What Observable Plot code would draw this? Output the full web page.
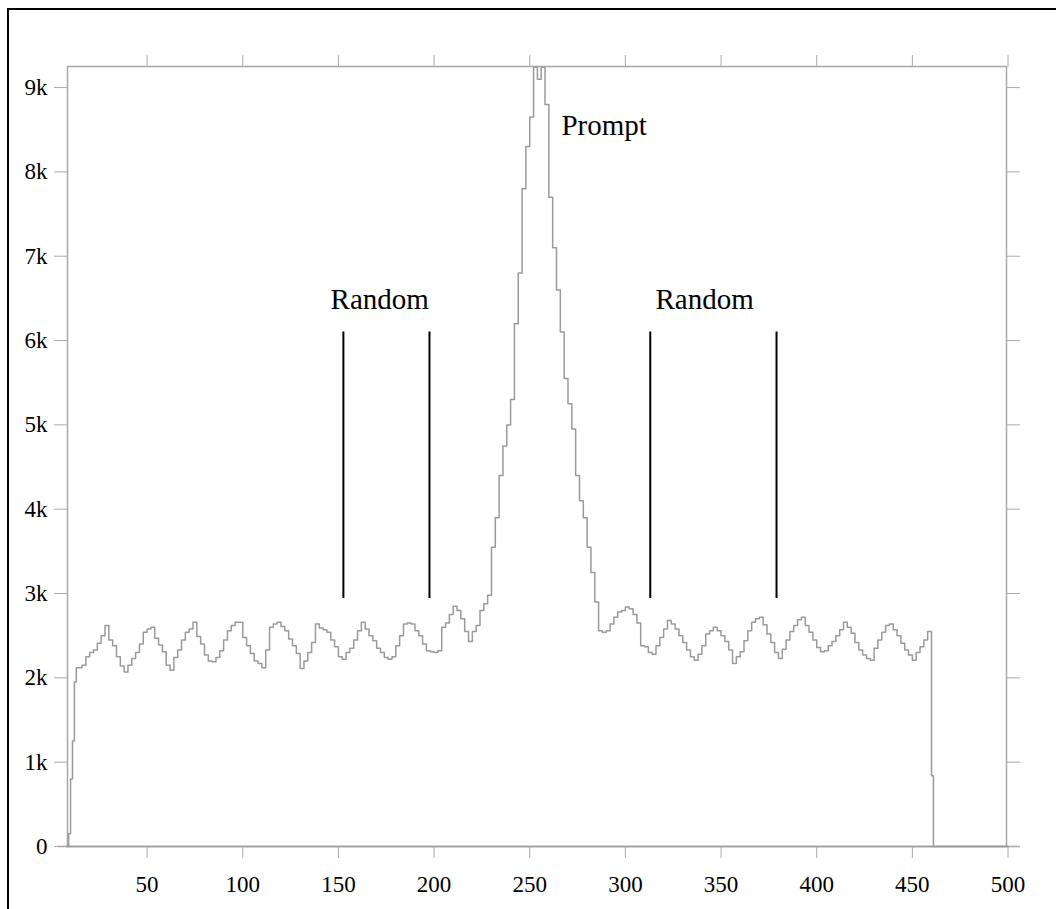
<!DOCTYPE html>
<html><head><meta charset="utf-8">
<script src="https://cdn.jsdelivr.net/npm/d3@7"></script>
<script src="https://cdn.jsdelivr.net/npm/@observablehq/plot@0.6"></script>
<style>
body{margin:0;background:#fff;}
#wrap{position:relative;width:1056px;height:909px;overflow:hidden;background:#fff;}
#border{position:absolute;left:7px;top:8px;width:1200px;height:1100px;border-left:2.5px solid #000;border-top:2.5px solid #000;}
#chart{position:absolute;left:0;top:0;}
</style></head><body>
<div id="wrap"><div id="border"></div><div id="chart"></div></div>
<script>
// Histogram bins (start of each bin) and counts
const binStart = [8,9,10,11,12,13,
  14,16,18,20,22,24,26,28,30,32,34,36,38,40,42,44,46,48,50,52,54,56,58,60,
  62,64,66,68,70,72,74,76,78,80,82,84,86,88,90,92,94,96,98,100,102,104,106,108,110,
  112,114,116,118,120,122,124,126,128,130,132,134,136,138,140,142,144,146,148,150,
  152,154,156,158,160,162,164,166,168,170,172,174,176,178,180,182,184,186,188,190,
  192,194,196,198,200,202,204,206,208,210,212,214,216,218,220,222,224,226,228,230,
  232,234,236,238,240,242,244,246,248,250,252,254,256,258,260,262,264,266,268,270,
  272,274,276,278,280,282,284,286,288,290,292,294,296,298,300,302,304,306,308,310,
  312,314,316,318,320,322,324,326,328,330,332,334,336,338,340,342,344,346,348,350,
  352,354,356,358,360,362,364,366,368,370,372,374,376,378,380,382,384,386,388,390,
  392,394,396,398,400,402,404,406,408,410,412,414,416,418,420,422,424,426,428,430,
  432,434,436,438,440,442,444,446,448,450,452,454,456,458,460,461,500];
const counts = [0,150,800,1250,1950,2120,
  2120,2150,2250,2300,2330,2410,2500,2620,2450,2380,2250,2140,2070,2150,2230,2300,2400,2540,2580,2600,2470,2390,2310,2150,
  2090,2240,2330,2450,2540,2580,2660,2490,2400,2270,2200,2190,2240,2320,2450,2560,2620,2660,2660,2480,2380,2290,2200,2170,2120,
  2330,2600,2640,2660,2610,2560,2460,2380,2290,2110,2200,2300,2420,2640,2590,2570,2540,2450,2370,2250,
  2220,2300,2350,2450,2560,2660,2580,2500,2440,2350,2300,2240,2220,2250,2380,2500,2640,2650,2640,2560,
  2500,2400,2320,2310,2300,2320,2600,2650,2750,2850,2800,2700,2550,2430,2550,2620,2800,2880,2980,3550,
  3900,4400,4750,5000,5300,6200,6800,7800,8300,8650,9240,9100,9240,8800,7700,7100,6600,6100,5550,5250,
  4950,4400,4100,3900,3550,3250,2900,2560,2540,2560,2640,2720,2780,2800,2840,2820,2750,2650,2380,2370,
  2300,2280,2380,2480,2580,2680,2640,2580,2500,2420,2330,2250,2210,2280,2380,2520,2560,2600,2560,2500,
  2430,2330,2170,2250,2310,2440,2560,2660,2700,2720,2630,2520,2420,2300,2230,2340,2450,2550,2620,2690,
  2720,2620,2540,2450,2360,2310,2320,2380,2430,2500,2570,2660,2600,2530,2420,2330,2270,2230,2210,2350,
  2450,2540,2620,2640,2570,2500,2410,2330,2270,2210,2300,2370,2450,2550,840,0,0];

const yTicks = [0,1000,2000,3000,4000,5000,6000,7000,8000,9000];
const yTickLabels = ["0","1k","2k","3k","4k","5k","6k","7k","8k","9k"];
const xTicks = [50,100,150,200,250,300,350,400,450,500];

const markerX = [152.6,197.6,313,379];
const markerBottom = 2940;
const markerTop = 6100;

const labelText = ["Random","Random","Prompt"];
const labelX = [145.9,315.7,266.6];
const labelY = [6490,6490,8542];

const data = binStart.map((x,i)=>({x, y:counts[i]}));
const labels = labelText.map((t,i)=>({t, x:labelX[i], y:labelY[i]}));

const serif = "'Liberation Serif','Times New Roman',Times,serif";
const chart = Plot.plot({
  width:1056, height:909,
  marginLeft:67, marginRight:50, marginTop:66, marginBottom:63,
  style:{fontFamily:serif, background:"transparent", color:"#000"},
  x:{domain:[8.4,499.2]},
  y:{domain:[0,9250]},
  marks:[
    Plot.frame({stroke:"#a8a8a8", strokeWidth:1.5}),
    Plot.ruleY([0], {stroke:"#999", strokeWidth:1.5, insetLeft:-9, insetRight:-14}),
    Plot.axisY(yTicks, {anchor:"left", tickSize:13, tickPadding:7, fontSize:23,
      tickFormat:d=>yTickLabels[yTicks.indexOf(d)], stroke:"#aaa", fill:"#000", label:null}),
    Plot.axisY(yTicks, {anchor:"right", tickSize:13, tickFormat:()=>"", stroke:"#aaa", label:null}),
    Plot.axisX(xTicks, {anchor:"bottom", tickSize:12, tickPadding:17, fontSize:23,
      stroke:"#aaa", fill:"#000", label:null}),
    Plot.axisX(xTicks, {anchor:"top", tickSize:12, tickFormat:()=>"", stroke:"#aaa", label:null}),
    Plot.line(data, {x:"x", y:"y", curve:"step-after", stroke:"#9a9a9a", strokeWidth:1.5}),
    Plot.ruleX(markerX, {x:d=>d, y1:()=>markerBottom, y2:()=>markerTop, stroke:"#000", strokeWidth:2}),
    Plot.text(labels, {x:"x", y:"y", text:"t", textAnchor:"start", fontSize:29, fill:"#000"})
  ]
});
document.getElementById("chart").appendChild(chart);
</script>
</body></html>
